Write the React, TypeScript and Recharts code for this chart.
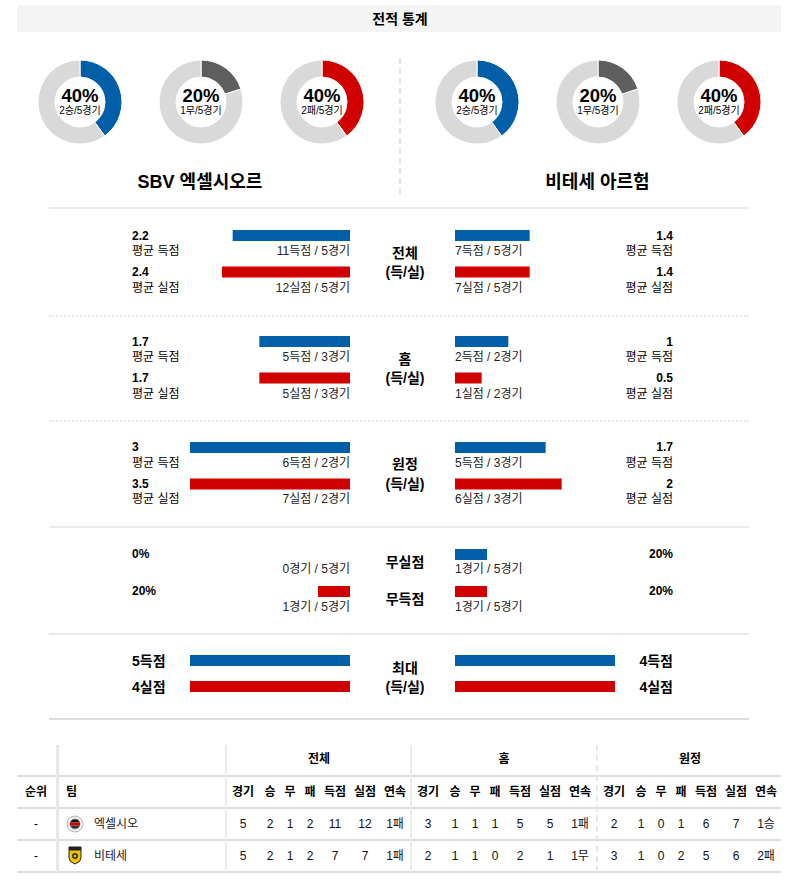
import React from "react";
import { PieChart, Pie, Cell, BarChart, Bar, XAxis, YAxis } from "recharts";

const FONT = '"Liberation Sans", Arial, "Noto Sans CJK KR", sans-serif';
const BLUE = "#005fa6";
const RED = "#d10000";
const DRAW = "#5e5e5e";
const TRACK = "#d9d9d9";

// 최근 경기 (왼쪽 = 엑셀시오르, 오른쪽 = 비테세)
const teamNames = ["SBV 엑셀시오르", "비테세 아르험"];
const recentGames = [5, 5];
const wins = [2, 2];
const draws = [1, 1];
const losses = [2, 2];

// 득/실 : 전체, 홈, 원정
const splitLabels = ["전체", "홈", "원정"];
const leftGames = [5, 3, 2];
const leftScored = [11, 5, 6];
const leftConceded = [12, 5, 7];
const leftAvgScored = [2.2, 1.7, 3];
const leftAvgConceded = [2.4, 1.7, 3.5];
const rightGames = [5, 2, 3];
const rightScored = [7, 2, 5];
const rightConceded = [7, 1, 6];
const rightAvgScored = [1.4, 1, 1.7];
const rightAvgConceded = [1.4, 0.5, 2];

// 무실점 / 무득점
const cleanSheetGames = [0, 1];
const cleanSheetPct = [0, 20];
const noGoalGames = [1, 1];
const noGoalPct = [20, 20];

// 최대 득/실
const maxScored = [5, 4];
const maxConceded = [4, 4];

// 순위표
const tableGroups = ["전체", "홈", "원정"];
const tableCols = ["경기", "승", "무", "패", "득점", "실점", "연속"];
const tableTeams = ["엑셀시오", "비테세"];
const excelsiorRow = [
  [5, 2, 1, 2, 11, 12, "1패"],
  [3, 1, 1, 1, 5, 5, "1패"],
  [2, 1, 0, 1, 6, 7, "1승"],
];
const vitesseRow = [
  [5, 2, 1, 2, 7, 7, "1패"],
  [2, 1, 1, 0, 2, 1, "1무"],
  [3, 1, 0, 2, 5, 6, "2패"],
];

function T({ x, y, children, align = "left", size = 12, bold = false, color = "#000" }: any) {
  const tx = align === "left" ? "0" : align === "right" ? "-100%" : "-50%";
  return (
    <div
      style={{
        position: "absolute",
        left: x,
        top: y,
        transform: `translate(${tx}, -50%)`,
        fontSize: size,
        fontWeight: bold ? 700 : 400,
        color,
        whiteSpace: "nowrap",
        lineHeight: 1,
      }}
    >
      {children}
    </div>
  );
}

function Donut({ cx, cy, value, total, color, label }: any) {
  const data = [
    { k: "v", v: value },
    { k: "r", v: total - value },
  ];
  const pct = Math.round((value / total) * 100);
  return (
    <>
      <div style={{ position: "absolute", left: cx - 45, top: cy - 45 }}>
        <PieChart width={90} height={90} margin={{ top: 0, right: 0, bottom: 0, left: 0 }}>
          <Pie
            data={data}
            dataKey="v"
            cx={45}
            cy={45}
            innerRadius={25}
            outerRadius={42}
            startAngle={90}
            endAngle={-270}
            stroke="#fff"
            strokeWidth={1}
            isAnimationActive={false}
          >
            <Cell fill={color} />
            <Cell fill={TRACK} />
          </Pie>
        </PieChart>
      </div>
      <T x={cx} y={cy - 5.6} align="center" size={18.5} bold>
        {pct}%
      </T>
      <T x={cx} y={cy + 8.8} align="center" size={10}>
        {label}
      </T>
    </>
  );
}

function SideBars({ left, top, height, values, max, reversed }: any) {
  const data = values.map((v: number, i: number) => ({ row: i === 0 ? "a" : "b", v }));
  return (
    <div style={{ position: "absolute", left, top }}>
      <BarChart
        layout="vertical"
        width={160}
        height={height}
        data={data}
        margin={{ top: 0, right: 0, bottom: 0, left: 0 }}
      >
        <XAxis type="number" hide domain={[0, max]} allowDataOverflow reversed={reversed} />
        <YAxis type="category" dataKey="row" hide />
        <Bar dataKey="v" barSize={11} isAnimationActive={false}>
          <Cell fill={BLUE} />
          <Cell fill={RED} />
        </Bar>
      </BarChart>
    </div>
  );
}

function HLine({ y, style = "solid", color = "#eaeaea", x1 = 49, x2 = 749 }: any) {
  return (
    <div
      style={{
        position: "absolute",
        left: x1,
        top: y,
        width: x2 - x1,
        height: 0,
        borderTop: `2px ${style} ${color}`,
      }}
    />
  );
}

const splitRows = [235.5, 341.5, 447.3];
const L_BAR = 190;
const R_BAR = 455;

export default function App() {
  const donutLeftX = [80, 201, 322];
  const donutRightX = [477, 598, 719];
  const donutValues = (t: number) => [wins[t], draws[t], losses[t]];
  const donutColors = [BLUE, DRAW, RED];
  const donutLabels = (t: number) => [
    `${wins[t]}승/${recentGames[t]}경기`,
    `${draws[t]}무/${recentGames[t]}경기`,
    `${losses[t]}패/${recentGames[t]}경기`,
  ];

  const groupStarts = [226, 411, 597];
  const colOffsets = [17, 44, 64, 84, 109, 139, 169];
  const rowsY = [824, 856];

  return (
    <div
      style={{
        position: "absolute",
        left: 0,
        top: 0,
        width: 795,
        height: 885,
        background: "#fff",
        fontFamily: FONT,
        overflow: "hidden",
      }}
    >
      {/* 제목 */}
      <div style={{ position: "absolute", left: 17, top: 5, width: 764, height: 27, background: "#f4f4f4" }} />
      <T x={400} y={18.5} align="center" size={14} bold>
        전적 통계
      </T>

      {/* 도넛 */}
      {[0, 1].map((t) =>
        (t === 0 ? donutLeftX : donutRightX).map((x, i) => (
          <Donut
            key={`${t}-${i}`}
            cx={x}
            cy={102}
            value={donutValues(t)[i]}
            total={recentGames[t]}
            color={donutColors[i]}
            label={donutLabels(t)[i]}
          />
        ))
      )}
      <div style={{ position: "absolute", left: 399, top: 58, height: 136, borderLeft: "2px dashed #e6e6e6" }} />
      <T x={200} y={181.5} align="center" size={18} bold>
        {teamNames[0]}
      </T>
      <T x={597.5} y={181.5} align="center" size={18} bold>
        {teamNames[1]}
      </T>

      {/* 구분선 */}
      <HLine y={207} />
      <HLine y={315} style="dotted" color="#e6e6e6" />
      <HLine y={420} style="dotted" color="#e6e6e6" />
      <HLine y={526} />
      <HLine y={633} />
      <HLine y={718} color="#dcdcdc" />

      {/* 전체 / 홈 / 원정 */}
      {splitLabels.map((lab, i) => {
        const r1 = splitRows[i];
        const r2 = r1 + 36.5;
        return (
          <React.Fragment key={lab}>
            <SideBars
              left={L_BAR}
              top={r1 - 18.25}
              height={73}
              values={[leftAvgScored[i], leftAvgConceded[i]]}
              max={3}
              reversed
            />
            <SideBars
              left={R_BAR}
              top={r1 - 18.25}
              height={73}
              values={[rightAvgScored[i], rightAvgConceded[i]]}
              max={3}
            />
            <T x={132} y={r1} bold>{leftAvgScored[i]}</T>
            <T x={132} y={r1 + 15.5}>평균 득점</T>
            <T x={132} y={r2} bold>{leftAvgConceded[i]}</T>
            <T x={132} y={r2 + 15.5}>평균 실점</T>
            <T x={350} y={r1 + 15.5} align="right" color="#222">
              {leftScored[i]}득점 / {leftGames[i]}경기
            </T>
            <T x={350} y={r2 + 15.5} align="right" color="#222">
              {leftConceded[i]}실점 / {leftGames[i]}경기
            </T>
            <T x={405} y={r1 + 17} align="center" size={14} bold>{lab}</T>
            <T x={405} y={r1 + 36.5} align="center" size={14} bold>(득/실)</T>
            <T x={455} y={r1 + 15.5} color="#222">
              {rightScored[i]}득점 / {rightGames[i]}경기
            </T>
            <T x={455} y={r2 + 15.5} color="#222">
              {rightConceded[i]}실점 / {rightGames[i]}경기
            </T>
            <T x={673} y={r1} align="right" bold>{rightAvgScored[i]}</T>
            <T x={673} y={r1 + 15.5} align="right">평균 득점</T>
            <T x={673} y={r2} align="right" bold>{rightAvgConceded[i]}</T>
            <T x={673} y={r2 + 15.5} align="right">평균 실점</T>
          </React.Fragment>
        );
      })}

      {/* 무실점 / 무득점 */}
      <SideBars left={L_BAR} top={554 - 18.5} height={74} values={[cleanSheetPct[0], noGoalPct[0]]} max={100} reversed />
      <SideBars left={R_BAR} top={554 - 18.5} height={74} values={[cleanSheetPct[1], noGoalPct[1]]} max={100} />
      <T x={132} y={554} bold>{cleanSheetPct[0]}%</T>
      <T x={132} y={591} bold>{noGoalPct[0]}%</T>
      <T x={350} y={569} align="right" color="#222">{cleanSheetGames[0]}경기 / {recentGames[0]}경기</T>
      <T x={350} y={606.5} align="right" color="#222">{noGoalGames[0]}경기 / {recentGames[0]}경기</T>
      <T x={405} y={562} align="center" size={14} bold>무실점</T>
      <T x={405} y={599} align="center" size={14} bold>무득점</T>
      <T x={455} y={569} color="#222">{cleanSheetGames[1]}경기 / {recentGames[1]}경기</T>
      <T x={455} y={606.5} color="#222">{noGoalGames[1]}경기 / {recentGames[1]}경기</T>
      <T x={673} y={554} align="right" bold>{cleanSheetPct[1]}%</T>
      <T x={673} y={591} align="right" bold>{noGoalPct[1]}%</T>

      {/* 최대 */}
      <SideBars left={L_BAR} top={661.3 - 12.9} height={51.8} values={[maxScored[0], maxConceded[0]]} max={4} reversed />
      <SideBars left={R_BAR} top={661.3 - 12.9} height={51.8} values={[maxScored[1], maxConceded[1]]} max={4} />
      <T x={132} y={661} size={14} bold>{maxScored[0]}득점</T>
      <T x={132} y={687} size={14} bold>{maxConceded[0]}실점</T>
      <T x={405} y={668} align="center" size={14} bold>최대</T>
      <T x={405} y={687} align="center" size={14} bold>(득/실)</T>
      <T x={673} y={661} align="right" size={14} bold>{maxScored[1]}득점</T>
      <T x={673} y={687} align="right" size={14} bold>{maxConceded[1]}실점</T>

      {/* 순위표 */}
      {[776, 808, 840, 872].map((y) => (
        <HLine key={y} y={y - 1} x1={17} x2={781} color="#dddddd" style="solid" />
      ))}
      <div style={{ position: "absolute", left: 56, top: 745, height: 127, borderLeft: "3px solid #e8e8e8" }} />
      <div style={{ position: "absolute", left: 225, top: 745, height: 127, borderLeft: "2px solid #ececec" }} />
      <div style={{ position: "absolute", left: 410, top: 745, height: 127, borderLeft: "2px solid #ececec" }} />
      <div style={{ position: "absolute", left: 596, top: 745, height: 127, borderLeft: "2px dashed #e6e6e6" }} />

      {tableGroups.map((g, gi) => (
        <T key={g} x={groupStarts[gi] + 93} y={759} align="center" bold>
          {g}
        </T>
      ))}
      <T x={36} y={791.5} align="center" bold>순위</T>
      <T x={66} y={791.5} bold>팀</T>
      {tableGroups.map((g, gi) =>
        tableCols.map((c, ci) => (
          <T key={`${g}-${c}`} x={groupStarts[gi] + colOffsets[ci]} y={791.5} align="center" bold>
            {c}
          </T>
        ))
      )}

      {[excelsiorRow, vitesseRow].map((row, ti) => (
        <React.Fragment key={ti}>
          <T x={36} y={rowsY[ti]} align="center">-</T>
          <T x={94} y={rowsY[ti]} color="#222">{tableTeams[ti]}</T>
          {row.map((grp, gi) =>
            grp.map((v, ci) => (
              <T key={`${gi}-${ci}`} x={groupStarts[gi] + colOffsets[ci]} y={rowsY[ti]} align="center" color="#111">
                {v}
              </T>
            ))
          )}
        </React.Fragment>
      ))}

      {/* 로고 */}
      <svg style={{ position: "absolute", left: 66, top: 815 }} width={18} height={18} viewBox="0 0 18 18">
        <circle cx={9} cy={9} r={8} fill="#f0f0f0" stroke="#b5b5b5" strokeWidth={1} />
        <circle cx={9} cy={9} r={5.2} fill="#fff" stroke="#999" strokeWidth={0.6} />
        <path d="M4.3 7.5 A5 5 0 0 1 13.7 7.5 Z" fill="#111" />
        <rect x={4} y={7.5} width={10} height={3} fill="#d40000" />
        <path d="M4.3 10.5 A5 5 0 0 0 13.7 10.5 Z" fill="#333" />
      </svg>
      <svg style={{ position: "absolute", left: 68, top: 846 }} width={14} height={19} viewBox="0 0 14 19">
        <path d="M1 1 H13 V12 Q13 16 7 18 Q1 16 1 12 Z" fill="#f2c300" stroke="#222" strokeWidth={1} />
        <rect x={1} y={1} width={12} height={3.5} fill="#222" />
        <circle cx={7} cy={10} r={3} fill="#333" />
        <circle cx={7} cy={10} r={1.3} fill="#f2c300" />
      </svg>
    </div>
  );
}
